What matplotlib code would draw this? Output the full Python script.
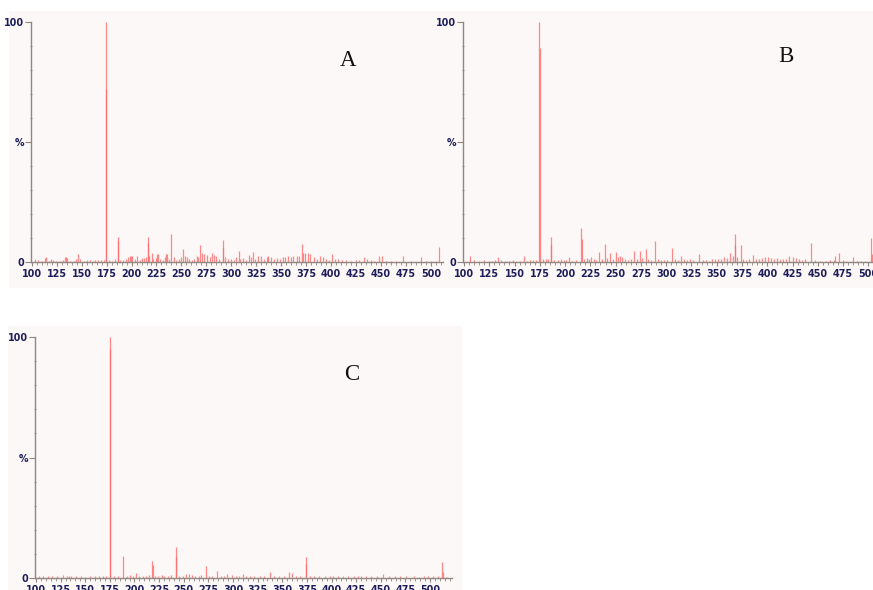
import matplotlib
matplotlib.use("Agg")
import matplotlib.pyplot as plt
from matplotlib.patches import Rectangle
from matplotlib.ticker import MultipleLocator, FixedLocator, FixedFormatter

# ---------------- data (m/z, relative intensity %) ----------------
a_mz = [174.4, 174.9, 186, 186.5, 216, 216.6, 220.5, 240, 252, 269, 271, 291.5, 292, 307.6, 318, 321.8,
        371, 371.6, 377, 401, 508, 472, 490, 448, 433, 146, 134, 114, 281, 226, 235, 199, 357, 389, 366,
        265.6, 276, 337,
        103, 106, 110, 113, 117, 119, 121, 124, 128, 131, 133, 135, 138, 142, 144, 148, 152, 155, 158, 161,
        163, 166, 169, 172, 177, 180, 183, 188, 191, 194, 196, 198, 200, 203, 205, 208, 210, 212, 214, 218,
        222, 225, 227, 229, 232, 234, 236, 238, 243, 245, 248, 250, 254, 256, 258, 261, 263, 267, 273, 279,
        283, 285, 288, 294, 297, 300, 303, 305, 309, 312, 315, 320, 324, 327, 330, 333, 336, 340, 343, 346,
        349, 352, 354, 360, 362, 368, 374, 379, 383, 386, 392, 395, 398, 404, 407, 411, 415, 420, 425, 428,
        436, 440, 443, 451, 455, 460, 465, 480, 495, 500, 505]
a_int = [100, 72, 10.7, 9, 10.4, 8, 4, 11.6, 5.7, 7, 3.7, 9.3, 5.8, 4.7, 3, 4.2,
         7.5, 4, 4, 3.5, 6.5, 2.6, 2, 2.6, 2.2, 3.3, 2.2, 2, 4, 3.3, 3.5, 2.8, 2.8, 2.8, 2.6,
         2.6, 3, 2.6,
         1.2, 0.8, 0.6, 1.8, 0.7, 1.5, 1.0, 0.5, 0.6, 1.0, 2.0, 1.8, 0.6, 0.7, 1.5, 1.2, 0.5, 0.8, 1.0, 0.7,
         1.0, 1.1, 0.8, 0.9, 1.0, 0.6, 1.3, 1.0, 0.8, 1.5, 2.0, 2.5, 2.6, 1.2, 2.5, 1.0, 1.8, 1.8, 2.0, 2.5,
         1.5, 1.8, 3.3, 1.5, 1.0, 2.0, 3.5, 1.5, 2.0, 1.0, 1.2, 2.0, 2.5, 2.0, 1.2, 1.0, 1.5, 2.0, 3.5, 2.0,
         3.0, 2.5, 1.5, 2.0, 1.5, 1.2, 1.0, 2.0, 1.5, 1.8, 1.0, 2.0, 1.5, 2.5, 2.5, 1.5, 2.0, 2.2, 1.5, 1.8,
         1.5, 2.0, 2.3, 2.4, 2.5, 2.6, 4.0, 3.5, 2.0, 1.5, 2.0, 1.5, 1.0, 1.5, 1.2, 1.0, 0.8, 0.7, 1.0, 0.8,
         1.5, 0.8, 0.6, 2.5, 0.7, 0.5, 0.6, 0.5, 0.4, 0.5, 0.4]

b_mz = [174.4, 174.9, 185.7, 186.2, 215.8, 216.3, 233.9, 239, 244.4, 250.4, 268, 274, 279.7, 289.3,
        305.5, 315, 332.5, 363.5, 367.8, 368.3, 373.7, 385.6, 421.9, 443.3, 467, 471, 484.6, 502.7, 503.2,
        106, 133.6, 159.4, 204, 226, 254,
        110, 115, 120, 125, 128, 131, 137, 141, 145, 148, 151, 155, 162, 165, 168, 171, 178, 181, 183,
        189, 193, 196, 199, 201, 207, 211, 219, 222, 224, 229, 231, 237, 241, 247, 252, 256, 259, 262,
        265, 271, 276, 282, 285, 292, 295, 298, 301, 309, 312, 318, 321, 324, 327, 336, 339, 342, 345,
        348, 351, 354, 357, 360, 366, 370, 376, 379, 382, 389, 392, 395, 398, 401, 404, 407, 410, 413,
        416, 419, 425, 428, 431, 434, 437, 447, 452, 458, 462, 466, 475, 478, 489, 493, 497]
b_int = [100, 89, 10.7, 7.2, 14.4, 9.8, 4.4, 7.6, 3.7, 4.4, 4.8, 4.8, 5.4, 9,
         6, 2.6, 3.3, 4, 11.8, 7, 7.2, 3, 2.6, 8.2, 2.6, 3.7, 2, 10, 3.5,
         2.8, 2.4, 2.5, 2, 2, 2.6,
         0.8, 0.6, 0.8, 0.5, 0.6, 1.0, 0.8, 0.6, 0.5, 0.8, 0.5, 0.6, 0.6, 0.8, 1.0, 1.0, 1.2, 1.3, 1.5,
         0.8, 1.0, 1.5, 1.0, 0.8, 0.7, 0.8, 1.5, 1.8, 1.5, 1.2, 1.0, 1.5, 1.8, 1.2, 2.0, 2.0, 1.5, 1.0,
         1.2, 1.5, 1.8, 1.5, 1.0, 1.5, 1.0, 1.0, 0.8, 1.5, 1.0, 1.5, 1.0, 1.2, 0.8, 1.0, 0.8, 0.7, 1.5,
         1.2, 1.5, 1.3, 2.0, 1.8, 2.5, 2.0, 1.5, 1.0, 1.2, 1.5, 1.5, 1.8, 2.0, 2.0, 1.8, 1.5, 1.8, 1.2,
         1.5, 1.5, 2.0, 1.8, 1.5, 1.0, 1.5, 0.8, 0.6, 0.7, 0.8, 1.0, 0.8, 0.6, 0.7, 0.5, 0.6]

c_mz = [174.7, 175.2, 188, 201.5, 218, 218.5, 227.6, 242, 242.5, 255, 272.6, 284, 294, 299, 309.8,
        338, 356.5, 360, 373.8, 374.3, 430, 452, 493.6, 512.5, 513, 134,
        103, 107, 112, 116, 121, 127, 131, 136, 141, 146, 150, 155, 160, 164, 168, 171, 179, 183, 192,
        195, 198, 205, 209, 212, 215, 221, 224, 230, 234, 237, 245, 249, 252, 258, 261, 265, 268, 276,
        279, 288, 291, 303, 306, 313, 317, 321, 327, 331, 342, 347, 352, 364, 368, 378, 382, 387, 393,
        398, 402, 407, 412, 417, 423, 427, 435, 440, 446, 458, 464, 470, 476, 484, 489, 498, 503, 508, 516]
c_int = [100, 95, 9.2, 1.8, 6.8, 5.3, 1.1, 12.9, 8.5, 1.5, 4.9, 2.8, 1.4, 1.1, 1.4,
         2.4, 2.2, 1.8, 8.5, 5.5, 0.7, 1.4, 0.8, 6.5, 2.2, 0.7,
         0.5, 0.7, 0.6, 0.8, 0.5, 1.0, 0.6, 0.5, 0.7, 0.6, 0.4, 0.5, 0.6, 0.5, 0.8, 0.6, 0.7, 0.5, 0.8,
         1.2, 0.8, 0.6, 0.8, 0.7, 1.0, 0.8, 0.6, 0.7, 0.8, 1.0, 0.8, 0.7, 1.5, 1.0, 0.7, 0.8, 1.0, 0.9,
         0.8, 0.6, 0.8, 0.7, 0.5, 0.6, 0.7, 0.5, 0.6, 0.5, 0.5, 0.6, 0.5, 0.7, 0.6, 0.8, 0.6, 0.5, 0.6,
         0.5, 0.7, 0.5, 0.6, 0.5, 0.6, 0.8, 0.6, 0.5, 0.6, 0.5, 0.6, 0.5, 0.7, 0.5, 0.4, 0.6, 0.5, 0.6, 0.4]

panel_labels = ["A", "B", "C"]
x_major = [100, 125, 150, 175, 200, 225, 250, 275, 300, 325, 350, 375, 400, 425, 450, 475, 500]
y_tick_vals = [0, 50, 100]
y_tick_text = ["0", "%", "100"]

# ---------------- figure ----------------
W, H = 873, 590
fig = plt.figure(figsize=(W / 100, H / 100), dpi=100)
fig.patch.set_facecolor("white")

BG = "#fcf8f7"
# panel backgrounds (pixel boxes: x0, y0, x1, y1 from top-left), drawn behind the axes
for (x0, y0, x1, y1) in [(9, 11, 446, 288), (446, 11, 873, 288), (8, 326, 462, 590)]:
    r = Rectangle((x0 / W, 1 - y1 / H), (x1 - x0) / W, (y1 - y0) / H,
                  transform=fig.transFigure, facecolor=BG, edgecolor="none", zorder=-10)
    fig.patches.append(r)

AX_COL = "#8f8780"
TXT_COL = "#1d1d5a"
PEAK_COL = "#ff6b6b"

def px_axes(left_px, bottom_px, right_px, top_px):
    return [left_px / W, 1 - bottom_px / H, (right_px - left_px) / W, (bottom_px - top_px) / H]

panels = [
    (a_mz, a_int, (99.5, 512.0), px_axes(31.2, 262.3, 443.0, 21.7), (348, 60)),
    (b_mz, b_int, (99.3, 504.6), px_axes(463.3, 262.3, 873.0, 21.7), (786, 57)),
    (c_mz, c_int, (99.0, 522.0), px_axes(35.0, 577.7, 451.7, 337.3), (352, 375)),
]

for (mz, inten, xlim, rect, lab_px), lab in zip(panels, panel_labels):
    ax = fig.add_axes(rect, zorder=5)
    ax.patch.set_visible(False)
    ax.vlines(mz, 0, inten, colors=PEAK_COL, linewidth=0.9, alpha=0.8)
    ax.set_xlim(*xlim)
    ax.set_ylim(0, 100)
    for s in ["top", "right"]:
        ax.spines[s].set_visible(False)
    for s in ["left", "bottom"]:
        ax.spines[s].set_color(AX_COL)
        ax.spines[s].set_linewidth(1.0)
    ax.xaxis.set_major_locator(FixedLocator(x_major))
    ax.xaxis.set_minor_locator(MultipleLocator(5))
    ax.yaxis.set_major_locator(FixedLocator(y_tick_vals))
    ax.yaxis.set_major_formatter(FixedFormatter(y_tick_text))
    ax.yaxis.set_minor_locator(MultipleLocator(10))
    ax.tick_params(axis="x", which="major", length=3.0, width=0.8, color=AX_COL, pad=2.0,
                   labelsize=6.9, labelcolor=TXT_COL)
    ax.tick_params(axis="x", which="minor", length=1.8, width=0.6, color=AX_COL)
    ax.tick_params(axis="y", which="major", length=4.0, width=0.8, color=AX_COL, pad=1.0,
                   labelsize=6.9, labelcolor=TXT_COL)
    ax.tick_params(axis="y", which="minor", length=2.0, width=0.6, color=AX_COL, direction="inout")
    for t in ax.get_xticklabels() + ax.get_yticklabels():
        t.set_fontweight("bold")
    fig.text(lab_px[0] / W, 1 - lab_px[1] / H, lab, ha="center", va="center",
             fontsize=16.5, family="Liberation Serif", color="#111111", zorder=6)

fig.savefig("out.png", dpi=100, facecolor=fig.get_facecolor())
